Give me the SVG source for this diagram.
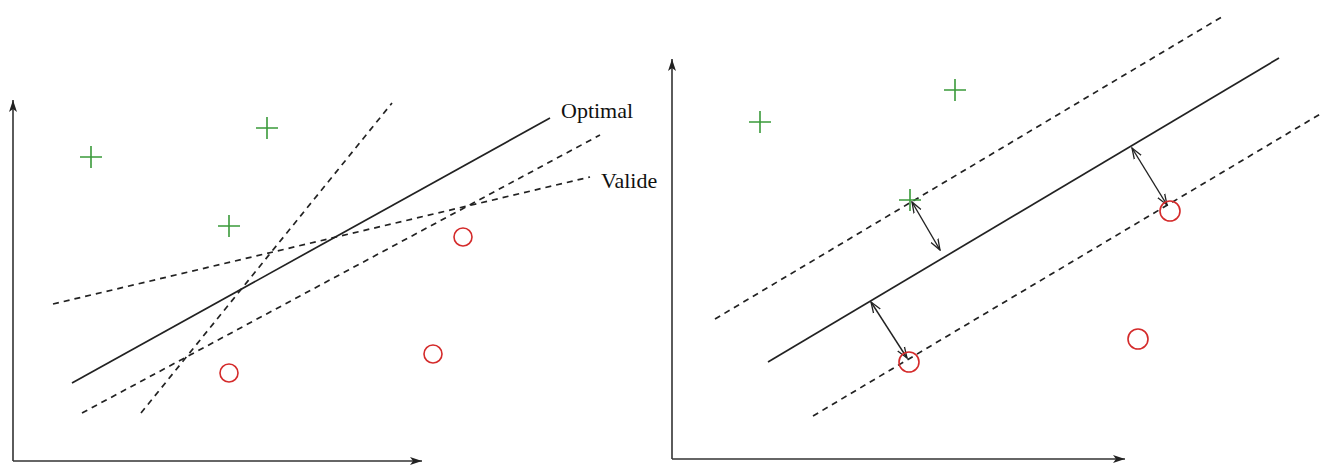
<svg xmlns="http://www.w3.org/2000/svg" width="1333" height="466" viewBox="0 0 1333 466">
<style>
.ax{stroke:#333;stroke-width:1.6;fill:none}
.sol{stroke:#222;stroke-width:1.7;fill:none}
.dash{stroke:#222;stroke-width:1.7;fill:none;stroke-dasharray:6 5}
.plus{stroke:#3a9a3a;stroke-width:1.6;fill:none}
.circ{stroke:#d42a2a;stroke-width:1.6;fill:none}
.dbl{stroke:#222;stroke-width:1.4;fill:none}
.lbl{font-family:"Liberation Serif",serif;font-size:22px;fill:#111}
</style>
<defs>
<marker id="axh" markerWidth="14" markerHeight="10" refX="12" refY="5" orient="auto" markerUnits="userSpaceOnUse">
<path d="M0,1 L12,5 L0,9 L3,5 Z" fill="#222"/>
</marker>
<marker id="dh" markerWidth="12" markerHeight="10" refX="11" refY="5" orient="auto-start-reverse" markerUnits="userSpaceOnUse">
<path d="M0,1 L11,5 L0,9" fill="none" stroke="#222" stroke-width="1.3"/>
</marker>
<g id="p"><path class="plus" d="M-11,0 H11 M0,-11 V11"/></g>
</defs>
<g id="connectors">
<path id="left-axes" class="ax" d="M13,461 V100" marker-end="url(#axh)"/>
<path class="ax" d="M13,461 H422" marker-end="url(#axh)"/>
<path id="right-axes" class="ax" d="M672,459 V59" marker-end="url(#axh)"/>
<path class="ax" d="M672,459 H1125" marker-end="url(#axh)"/>
<line class="sol" x1="72" y1="383" x2="550" y2="118"/>
<line class="dash" x1="53" y1="304" x2="590" y2="177"/>
<line class="dash" x1="82" y1="413" x2="600" y2="135"/>
<line class="dash" x1="141" y1="413" x2="392" y2="103"/>
<line class="sol" x1="768" y1="362" x2="1279" y2="58"/>
<line class="dash" x1="715" y1="319" x2="1225" y2="15"/>
<line class="dash" x1="813" y1="416" x2="1322" y2="113"/>
<line class="dbl" x1="912" y1="202" x2="940" y2="250" marker-start="url(#dh)" marker-end="url(#dh)"/>
<line class="dbl" x1="871" y1="302" x2="907" y2="358" marker-start="url(#dh)" marker-end="url(#dh)"/>
<line class="dbl" x1="1132" y1="148" x2="1167" y2="205" marker-start="url(#dh)" marker-end="url(#dh)"/>
</g>
<g id="label-optimal"><text class="lbl" x="561" y="118">Optimal</text></g>
<g id="label-valide"><text class="lbl" x="601" y="188">Valide</text></g>
<g id="plus-l1"><use href="#p" x="91" y="157"/></g>
<g id="plus-l2"><use href="#p" x="267" y="128"/></g>
<g id="plus-l3"><use href="#p" x="229" y="226"/></g>
<g id="circ-l1"><circle class="circ" cx="463" cy="237" r="9"/></g>
<g id="circ-l2"><circle class="circ" cx="433" cy="354" r="9"/></g>
<g id="circ-l3"><circle class="circ" cx="229" cy="373" r="9"/></g>
<g id="plus-r1"><use href="#p" x="760" y="122"/></g>
<g id="plus-r2"><use href="#p" x="955" y="90"/></g>
<g id="plus-r3"><use href="#p" x="910" y="200"/></g>
<g id="circ-r1"><circle class="circ" cx="1170" cy="211" r="10"/></g>
<g id="circ-r2"><circle class="circ" cx="1138" cy="339" r="10"/></g>
<g id="circ-r3"><circle class="circ" cx="909" cy="362" r="10"/></g>
</svg>
